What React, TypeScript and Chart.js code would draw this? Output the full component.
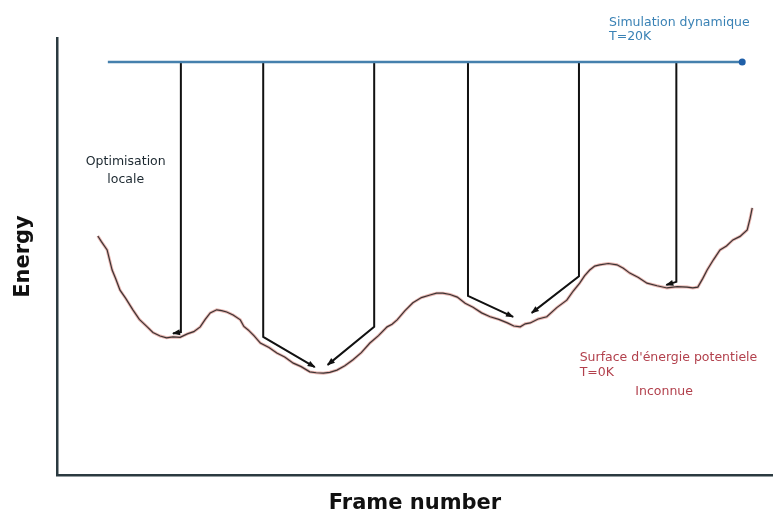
import React, { useEffect, useRef } from 'react';
import { Chart, registerables } from 'chart.js';

Chart.register(...registerables);

// Potential energy surface (T=0K), frame number vs energy (arbitrary units 0..100)
const curveX = [
  5.7, 6.2, 7.0, 7.3, 7.7, 8.2, 8.8, 9.6, 10.6, 11.5, 12.6, 13.4, 14.4, 15.3, 16.2, 17.2, 18.2, 19.1, 20.0,
  20.7, 21.4, 22.3, 23.0, 23.7, 24.6, 25.6, 26.1, 26.7, 27.5, 28.4, 29.6, 30.7, 31.8, 33.0, 34.1, 35.3,
  36.2, 37.2, 38.1, 39.1, 40.2, 41.3, 42.5, 43.7, 44.9, 46.1, 46.8, 47.5, 48.6, 49.7, 50.9, 52.1, 53.0,
  53.9, 54.9, 55.9, 57.0, 58.1, 59.3, 60.5, 61.7, 62.9, 63.8, 64.7, 65.4, 66.1, 67.2, 68.4, 69.8, 71.2,
  72.1, 73.0, 73.7, 74.4, 75.1, 75.8, 77.0, 78.2, 79.1, 80.0, 81.2, 82.4, 83.8, 85.2, 86.6, 88.0, 88.8,
  89.5, 90.2, 90.8, 91.7, 92.6, 93.5, 94.4, 95.4, 96.4, 96.8, 97.1,
];
const curveY = [
  54.7, 53.4, 51.5, 49.5, 46.9, 44.9, 42.3, 40.4, 37.8, 35.6, 33.9, 32.6, 31.8, 31.4, 31.6, 31.5, 32.3, 32.8, 33.9,
  35.6, 37.1, 37.8, 37.6, 37.3, 36.6, 35.5, 34.0, 33.2, 31.9, 30.2, 29.2, 27.9, 27.0, 25.6, 24.8, 23.6,
  23.4, 23.3, 23.5, 24.0, 25.0, 26.3, 28.0, 30.2, 31.9, 33.9, 34.5, 35.5, 37.6, 39.4, 40.6, 41.2, 41.6,
  41.6, 41.3, 40.7, 39.3, 38.4, 37.1, 36.2, 35.6, 34.8, 34.1, 33.9, 34.6, 34.8, 35.7, 36.2, 38.3, 40.0,
  42.1, 43.9, 45.6, 46.9, 47.8, 48.1, 48.4, 48.1, 47.3, 46.2, 45.2, 43.9, 43.3, 42.8, 43.1, 43.0, 42.8,
  43.0, 45.0, 46.9, 49.3, 51.5, 52.4, 53.8, 54.6, 56.1, 58.7, 61.1,
];

// Dynamic simulation trajectory (T=20K)
const simX = [7.1, 95.7];
const simY = [94.5, 94.5];

// Local optimisations: from the trajectory down to the surface minima
const arrowX = [
  [17.3, 17.3, 16.2],
  [28.8, 28.8, 36.0],
  [44.3, 44.3, 37.8],
  [57.4, 57.4, 63.7],
  [72.9, 72.9, 66.3],
  [86.5, 86.5, 85.1],
];
const arrowY = [
  [94.5, 32.7, 32.4],
  [94.5, 31.6, 24.7],
  [94.5, 33.9, 25.2],
  [94.5, 41.0, 36.2],
  [94.5, 45.5, 37.1],
  [94.5, 44.2, 43.5],
];

const zip = (xs: number[], ys: number[]) => xs.map((x, i) => ({ x, y: ys[i] }));

const SMALL_FONT = '12.5px "DejaVu Sans", Verdana, sans-serif';

const overlayPlugin = {
  id: 'overlay',
  afterDatasetsDraw(chart: any) {
    const ctx = chart.ctx;
    // arrowheads
    chart.data.datasets.forEach((ds: any, i: number) => {
      if (!ds.isArrow) return;
      const pts = chart.getDatasetMeta(i).data;
      const n = pts.length;
      const a = pts[n - 2];
      const b = pts[n - 1];
      const ang = Math.atan2(b.y - a.y, b.x - a.x);
      const len = 7;
      const hw = 3;
      ctx.save();
      ctx.fillStyle = '#111';
      ctx.translate(b.x, b.y);
      ctx.rotate(ang);
      ctx.beginPath();
      ctx.moveTo(1, 0);
      ctx.lineTo(-len, -hw);
      ctx.lineTo(-len, hw);
      ctx.closePath();
      ctx.fill();
      ctx.restore();
    });
    const xs = chart.scales.x;
    const ys = chart.scales.y;
    const text = (t: string, x: number, y: number, color: string, align: CanvasTextAlign) => {
      ctx.save();
      ctx.font = SMALL_FONT;
      ctx.fillStyle = color;
      ctx.textAlign = align;
      ctx.textBaseline = 'middle';
      ctx.fillText(t, xs.getPixelForValue(x), ys.getPixelForValue(y));
      ctx.restore();
    };
    text('Simulation dynamique', 77.1, 103.4, '#3a82b5', 'left');
    text('T=20K', 77.1, 100.2, '#3a82b5', 'left');
    text('Optimisation', 9.6, 71.6, '#1c2830', 'center');
    text('locale', 9.6, 67.5, '#1c2830', 'center');
    text("Surface d'énergie potentiele", 73.0, 26.8, '#b2404c', 'left');
    text('T=0K', 73.0, 23.3, '#b2404c', 'left');
    text('Inconnue', 84.8, 19.0, '#b2404c', 'center');
  },
};

export default function App() {
  const ref = useRef<HTMLCanvasElement | null>(null);
  useEffect(() => {
    if (!ref.current) return;
    const arrowSets = arrowX.map((xs, k) => ({
      label: 'Optimisation locale ' + (k + 1),
      data: zip(xs, arrowY[k]),
      borderColor: '#111111',
      borderWidth: 2,
      pointRadius: 0,
      showLine: true,
      tension: 0,
      isArrow: true,
      order: 1,
    }));
    const chart = new Chart(ref.current, {
      type: 'scatter',
      data: {
        datasets: [
          {
            label: 'Simulation dynamique T=20K',
            data: zip(simX, simY),
            borderColor: '#4580ad',
            borderWidth: 2.5,
            showLine: true,
            pointRadius: [0, 3.5],
            pointBackgroundColor: '#1f5fa8',
            pointBorderWidth: 0,
            order: 0,
          },
          ...arrowSets,
          {
            label: 'Surface',
            data: zip(curveX, curveY),
            borderColor: '#3a3434',
            borderWidth: 1.2,
            showLine: true,
            pointRadius: 0,
            tension: 0,
            order: 2,
          },
          {
            label: 'Surface halo',
            data: zip(curveX, curveY),
            borderColor: 'rgba(205,90,80,0.45)',
            borderWidth: 3,
            showLine: true,
            pointRadius: 0,
            tension: 0,
            order: 3,
          },
        ] as any,
      },
      options: {
        responsive: false,
        animation: false,
        events: [],
        devicePixelRatio: 1,
        layout: { autoPadding: false, padding: { top: 38, right: 0, bottom: 0, left: 0 } },
        plugins: { legend: { display: false }, tooltip: { enabled: false } },
        scales: {
          x: {
            type: 'linear',
            min: 0,
            max: 100,
            ticks: { display: false },
            grid: { display: false, drawTicks: false },
            border: { display: true, color: '#2b3a40', width: 2.5 },
            title: {
              display: true,
              text: 'Frame number',
              color: '#111',
              font: { family: '"DejaVu Sans", Verdana, sans-serif', size: 21, weight: 'bold' },
              padding: { top: 15.8, bottom: 0 },
            },
          },
          y: {
            type: 'linear',
            min: 0,
            max: 100,
            ticks: { display: false },
            grid: { display: false, drawTicks: false },
            border: { display: true, color: '#2b3a40', width: 2.5 },
            title: {
              display: true,
              text: 'Energy',
              color: '#111',
              font: { family: '"DejaVu Sans", Verdana, sans-serif', size: 21, weight: 'bold' },
              padding: { top: 11.4, bottom: 20.4 },
            },
          },
        },
      },
      plugins: [overlayPlugin],
    } as any);
    return () => chart.destroy();
  }, []);
  return (
    <div style={{ position: 'fixed', left: 0, top: 0, width: 773, height: 516, background: '#fff' }}>
      <canvas ref={ref} width={773} height={516} style={{ width: 773, height: 516, display: 'block' }} />
    </div>
  );
}
